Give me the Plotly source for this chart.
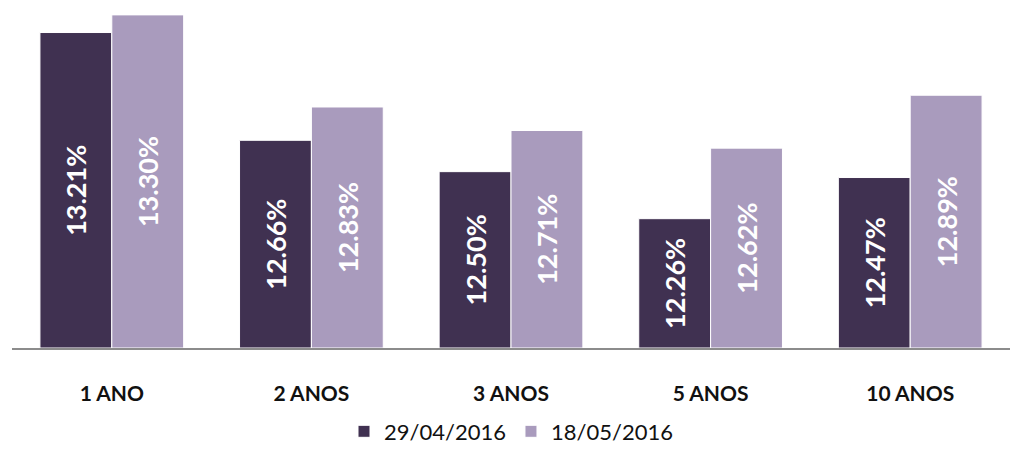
import plotly.graph_objects as go

categories = ["1 ANO", "2 ANOS", "3 ANOS", "5 ANOS", "10 ANOS"]
series_names = ["29/04/2016", "18/05/2016"]
values_apr = [13.21, 12.66, 12.50, 12.26, 12.47]
values_may = [13.30, 12.83, 12.71, 12.62, 12.89]
colors = ["#403151", "#A99BBD"]

Y_MIN, Y_MAX = 11.6, 13.376

fig = go.Figure()
for name, vals, col in zip(series_names, [values_apr, values_may], colors):
    fig.add_trace(go.Bar(
        x=categories, y=[v - Y_MIN for v in vals], base=Y_MIN, name=name,
        marker=dict(color=col, line=dict(color="white", width=1)),
        text=[f"{v:.2f}%" for v in vals],
        textposition="inside", insidetextanchor="middle", textangle=-90,
        textfont=dict(family="Lato", size=27, color="white", weight="bold"),
    ))

fig.update_layout(
    width=1019, height=451,
    margin=dict(l=12, r=9, t=0, b=103, autoexpand=False),
    paper_bgcolor="white", plot_bgcolor="white",
    barmode="group", bargap=0.28, bargroupgap=0,
    showlegend=True,
    legend=dict(orientation="h", x=0.5, xanchor="center", y=-0.24, yanchor="middle",
                font=dict(family="Lato", size=22, color="#111111"), traceorder="normal"),
    xaxis=dict(showline=True, linecolor="#8c8c8c", linewidth=1.5, ticks="",
               ticklabelstandoff=26, automargin=False,
               tickfont=dict(family="Lato", size=21, color="#111111", weight="bold")),
    yaxis=dict(range=[Y_MIN, Y_MAX], visible=False, showgrid=False),
    font=dict(family="Lato"),
)

fig.write_html("out.html", config={"displayModeBar": False},
               post_script="document.body.style.margin='0';")
